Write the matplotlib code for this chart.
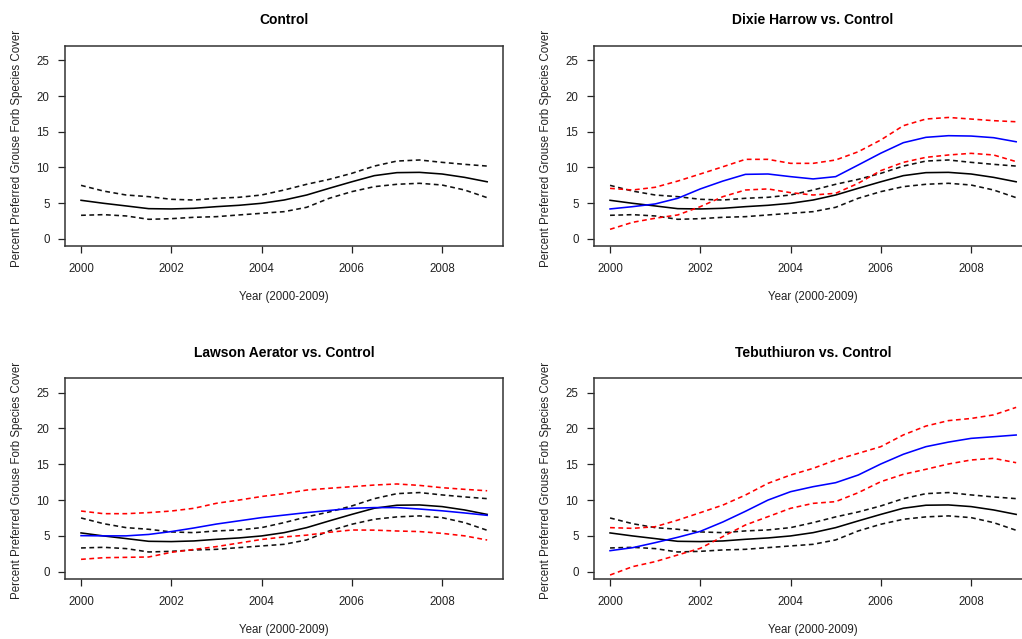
import numpy as np
import matplotlib.pyplot as plt

plt.rcParams["font.family"] = ["Liberation Sans", "DejaVu Sans"]
plt.rcParams["font.size"] = 8

years = [2000, 2000.5, 2001, 2001.5, 2002, 2002.5, 2003, 2003.5, 2004, 2004.5,
         2005, 2005.5, 2006, 2006.5, 2007, 2007.5, 2008, 2008.5, 2009]

# control fit and bands
ctrl_mean = [5.41, 4.99, 4.62, 4.24, 4.2, 4.29, 4.52, 4.71, 4.99, 5.45,
             6.15, 7.09, 8.0, 8.86, 9.28, 9.32, 9.09, 8.62, 8.0]
ctrl_hi = [7.5, 6.7, 6.15, 5.92, 5.55, 5.45, 5.69, 5.83, 6.15, 6.85,
           7.65, 8.34, 9.18, 10.2, 10.9, 11.05, 10.72, 10.44, 10.2]
ctrl_lo = [3.31, 3.4, 3.22, 2.75, 2.84, 3.03, 3.12, 3.36, 3.59, 3.82,
           4.43, 5.69, 6.62, 7.32, 7.65, 7.79, 7.55, 6.85, 5.78]

# Dixie Harrow
dixie_mean = [4.2, 4.52, 4.9, 5.69, 7.0, 8.1, 9.04, 9.09, 8.72, 8.4,
              8.72, 10.35, 12.0, 13.47, 14.22, 14.45, 14.4, 14.17, 13.6]
dixie_hi = [7.08, 6.85, 7.23, 8.1, 9.09, 10.1, 11.14, 11.14, 10.58, 10.58,
            11.05, 12.2, 13.85, 15.85, 16.78, 17.0, 16.78, 16.55, 16.4]
dixie_lo = [1.35, 2.33, 2.9, 3.36, 4.52, 5.92, 6.85, 7.0, 6.48, 6.15,
            6.39, 7.79, 9.56, 10.72, 11.42, 11.75, 11.98, 11.75, 10.82]

# Lawson Aerator
lawson_mean = [5.03, 5.0, 5.0, 5.2, 5.6, 6.1, 6.65, 7.1, 7.55, 7.9,
               8.25, 8.55, 8.85, 8.95, 8.95, 8.75, 8.5, 8.2, 7.87]
lawson_hi = [8.47, 8.1, 8.1, 8.25, 8.47, 8.85, 9.55, 10.0, 10.5, 10.9,
             11.4, 11.65, 11.87, 12.1, 12.25, 12.05, 11.73, 11.5, 11.3]
lawson_lo = [1.72, 1.95, 2.0, 2.05, 2.7, 3.1, 3.5, 4.0, 4.5, 4.85,
             5.1, 5.5, 5.82, 5.8, 5.68, 5.6, 5.35, 5.0, 4.42]

# Tebuthiuron
tebu_mean = [2.93, 3.35, 4.05, 4.8, 5.63, 6.94, 8.43, 10.0, 11.17, 11.87,
             12.43, 13.5, 15.04, 16.4, 17.46, 18.1, 18.62, 18.85, 19.09]
tebu_hi = [6.15, 6.05, 6.28, 7.2, 8.24, 9.3, 10.7, 12.34, 13.5, 14.43,
           15.6, 16.53, 17.46, 19.1, 20.34, 21.1, 21.4, 21.9, 22.95]
tebu_lo = [-0.47, 0.7, 1.4, 2.33, 3.26, 4.9, 6.52, 7.68, 8.85, 9.54,
           9.78, 11.03, 12.57, 13.6, 14.3, 15.04, 15.6, 15.83, 15.22]

titles = ["Control", "Dixie Harrow vs. Control",
          "Lawson Aerator vs. Control", "Tebuthiuron vs. Control"]
treatments = [None, (dixie_mean, dixie_hi, dixie_lo),
              (lawson_mean, lawson_hi, lawson_lo), (tebu_mean, tebu_hi, tebu_lo)]

W, H = 1022, 639
fig = plt.figure(figsize=(W / 100, H / 100), dpi=100)

# axes boxes in pixels: left, top, width, height
boxes = [(64.8, 45.7, 438.6, 200.7), (593.8, 45.7, 438.6, 200.7),
         (64.8, 378.1, 438.6, 201.0), (593.8, 378.1, 438.6, 201.0)]

dash = (0, (3.0, 2.2))
lw = 1.15
for i, (l, t, w, h) in enumerate(boxes):
    ax = fig.add_axes([l / W, (H - t - h) / H, w / W, h / H])
    ax.plot(years, ctrl_mean, color="black", lw=lw)
    ax.plot(years, ctrl_hi, color="#111111", lw=lw, ls=dash)
    ax.plot(years, ctrl_lo, color="#111111", lw=lw, ls=dash)
    if treatments[i] is not None:
        m, hi, lo = treatments[i]
        ax.plot(years, m, color="blue", lw=lw)
        ax.plot(years, hi, color="red", lw=lw, ls=dash)
        ax.plot(years, lo, color="red", lw=lw, ls=dash)

    ax.set_xlim(1999.64, 2009.36)
    ax.set_ylim(-1.04, 27.04)
    ax.set_xticks([2000, 2002, 2004, 2006, 2008])
    ax.set_yticks([0, 5, 10, 15, 20, 25])
    ax.tick_params(axis="x", length=5, width=0.9, pad=7, colors="#222222",
                   labelsize=8.3)
    ax.tick_params(axis="y", length=5, width=0.9, pad=6, colors="#222222",
                   labelsize=8.3)
    for s in ax.spines.values():
        s.set_linewidth(1.1)
        s.set_color("#333333")

    ax.set_title(titles[i], fontsize=10, fontweight="bold", pad=15.5)
    ax.set_xlabel("Year (2000-2009)", color="#222222", fontsize=8.3)
    ax.xaxis.label.set_va("center")
    ax.xaxis.set_label_coords(0.5, -0.254)
    ax.set_ylabel("Percent Preferred Grouse Forb Species Cover",
                  color="#222222", fontsize=8.3)
    ax.yaxis.label.set_va("center")
    ax.yaxis.set_label_coords(-0.108, 0.49)

fig.savefig("out.png", dpi=100)
